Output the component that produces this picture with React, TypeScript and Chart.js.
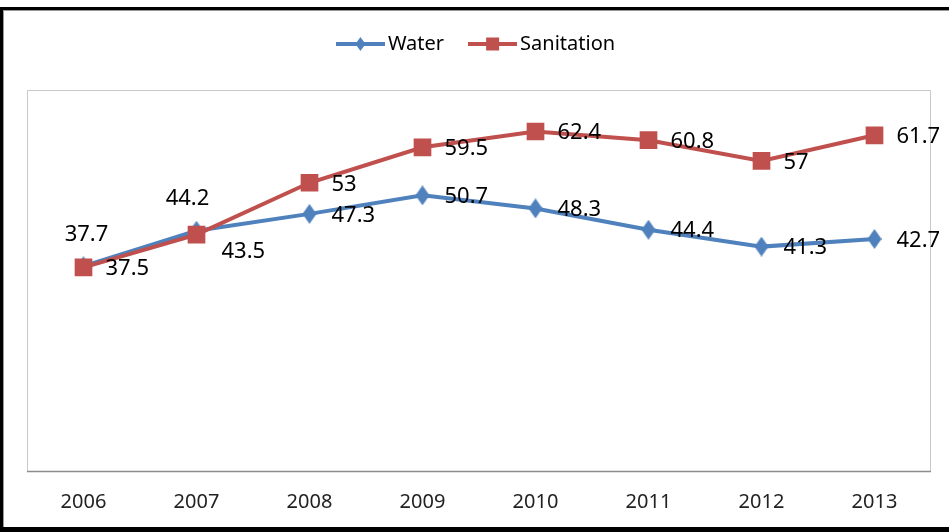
import React, { useEffect, useRef } from 'react';
import { Chart, registerables } from 'chart.js';

Chart.register(...registerables);

// ---- data ----
const years = ['2006', '2007', '2008', '2009', '2010', '2011', '2012', '2013'];
const waterValues = [37.7, 44.2, 47.3, 50.7, 48.3, 44.4, 41.3, 42.7];
const sanitationValues = [37.5, 43.5, 53, 59.5, 62.4, 60.8, 57, 61.7];
const seriesNames = ['Water', 'Sanitation'];
const yMin = 0;
const yMax = 70;

// ---- style ----
const WATER_COLOR = '#4F81BD';
const SAN_COLOR = '#C0504D';
const FONT = '"Noto Sans", "DejaVu Sans", sans-serif';

type Placement = { dx: number; dy: number; align: CanvasTextAlign };
const RIGHT: Placement = { dx: 22, dy: 1.5, align: 'left' };
const waterLabelPlacement: Placement[] = [
  { dx: 3, dy: -32, align: 'center' },
  { dx: -9, dy: -32, align: 'center' },
  RIGHT, RIGHT, RIGHT, RIGHT, RIGHT, RIGHT,
];
const sanitationLabelPlacement: Placement[] = [
  RIGHT,
  { dx: 25, dy: 17, align: 'left' },
  RIGHT, RIGHT, RIGHT, RIGHT, RIGHT, RIGHT,
];

function makeCanvas(w: number, h: number) {
  const c = document.createElement('canvas');
  c.width = w;
  c.height = h;
  return c;
}

function drawDiamond(ctx: CanvasRenderingContext2D, cx: number, cy: number, w: number, h: number, color: string) {
  ctx.fillStyle = color;
  ctx.beginPath();
  ctx.moveTo(cx, cy - h / 2);
  ctx.lineTo(cx + w / 2, cy);
  ctx.lineTo(cx, cy + h / 2);
  ctx.lineTo(cx - w / 2, cy);
  ctx.closePath();
  ctx.fill();
}

function makeDiamondMarker(color: string) {
  const c = makeCanvas(14, 20);
  const ctx = c.getContext('2d')!;
  drawDiamond(ctx, 7, 10, 14, 20, color);
  return c;
}

function makeLegendIcon(kind: 'diamond' | 'square', color: string) {
  const c = makeCanvas(49, 20);
  const ctx = c.getContext('2d')!;
  ctx.strokeStyle = color;
  ctx.lineWidth = 4;
  ctx.beginPath();
  ctx.moveTo(0, 10);
  ctx.lineTo(49, 10);
  ctx.stroke();
  if (kind === 'diamond') {
    drawDiamond(ctx, 24.5, 10, 10, 14, color);
  } else {
    ctx.fillStyle = color;
    ctx.fillRect(24.5 - 6.5, 10 - 6.5, 13, 13);
  }
  return c;
}

export default function App() {
  const canvasRef = useRef<HTMLCanvasElement | null>(null);

  useEffect(() => {
    if (!canvasRef.current) return;
    const diamond = makeDiamondMarker(WATER_COLOR);
    const legendIcons = [makeLegendIcon('diamond', WATER_COLOR), makeLegendIcon('square', SAN_COLOR)];
    const placements = [waterLabelPlacement, sanitationLabelPlacement];

    const legendMargin = {
      id: 'legendMargin',
      beforeInit(chart: any) {
        const orig = chart.legend.fit;
        chart.legend.fit = function fit() {
          orig.bind(chart.legend)();
          this.height += 26;
        };
      },
    };

    const plotFrame = {
      id: 'plotFrame',
      beforeDatasetsDraw(chart: any) {
        const { ctx, chartArea: a } = chart;
        const l = Math.round(a.left) + 0.5;
        const r = Math.round(a.right) - 0.5;
        const t = Math.round(a.top) + 0.5;
        const b = Math.round(a.bottom) - 0.5;
        ctx.save();
        ctx.lineWidth = 1;
        ctx.strokeStyle = '#C8C8C8';
        ctx.beginPath();
        ctx.moveTo(l, b);
        ctx.lineTo(l, t);
        ctx.lineTo(r, t);
        ctx.lineTo(r, b);
        ctx.stroke();
        ctx.strokeStyle = '#8C8C8C';
        ctx.lineWidth = 1.5;
        ctx.beginPath();
        ctx.moveTo(l - 0.5, b);
        ctx.lineTo(r + 0.5, b);
        ctx.stroke();
        ctx.restore();
      },
    };

    const dataLabels = {
      id: 'dataLabels',
      afterDatasetsDraw(chart: any) {
        const { ctx } = chart;
        ctx.save();
        ctx.font = `22px ${FONT}`;
        ctx.fillStyle = '#000';
        ctx.textBaseline = 'middle';
        chart.data.datasets.forEach((ds: any, di: number) => {
          const meta = chart.getDatasetMeta(di);
          meta.data.forEach((pt: any, i: number) => {
            const p = placements[di][i];
            ctx.textAlign = p.align;
            ctx.fillText(String(ds.data[i]), pt.x + p.dx, pt.y + p.dy);
          });
        });
        ctx.restore();
      },
    };

    const chart = new Chart(canvasRef.current, {
      type: 'line',
      data: {
        labels: years,
        datasets: [
          {
            label: seriesNames[0],
            data: waterValues,
            borderColor: WATER_COLOR,
            backgroundColor: WATER_COLOR,
            borderWidth: 4,
            tension: 0,
            pointStyle: diamond as any,
            pointRadius: 9,
            pointHoverRadius: 9,
            order: 1,
          },
          {
            label: seriesNames[1],
            data: sanitationValues,
            borderColor: SAN_COLOR,
            backgroundColor: SAN_COLOR,
            borderWidth: 4,
            tension: 0,
            pointStyle: 'rect',
            pointRadius: 12.5,
            pointHoverRadius: 12.5,
            pointBorderWidth: 0,
            order: 0,
          },
        ],
      },
      options: {
        responsive: false,
        animation: false,
        layout: { padding: { left: 27, right: 18, top: 3, bottom: 0 } },
        plugins: {
          tooltip: { enabled: false },
          legend: {
            position: 'top',
            align: 'center',
            labels: {
              font: { family: FONT, size: 20 },
              color: '#000',
              usePointStyle: true,
              pointStyleWidth: 35,
              boxHeight: 20,
              padding: 31,
              sort: (a: any, b: any) => a.datasetIndex - b.datasetIndex,
              generateLabels: (c: any) => {
                const items = Chart.defaults.plugins.legend.labels.generateLabels(c);
                return items.map((it: any) => ({ ...it, pointStyle: legendIcons[it.datasetIndex] }));
              },
            },
          },
        },
        scales: {
          x: {
            offset: true,
            grid: { display: false, drawTicks: false, tickLength: 0 },
            border: { display: false },
            ticks: { font: { family: FONT, size: 20 }, color: '#222', padding: 18 },
          },
          y: {
            display: false,
            min: yMin,
            max: yMax,
          },
        },
      },
      plugins: [legendMargin, plotFrame, dataLabels],
    } as any);

    return () => chart.destroy();
  }, []);

  return (
    <div style={{ position: 'fixed', left: 0, top: 0, width: 949, height: 532, overflow: 'hidden', background: '#fff' }}>
      <canvas ref={canvasRef} width={949} height={532} style={{ display: 'block', width: 949, height: 532 }} />
      <div
        style={{
          position: 'absolute',
          left: 0,
          top: 7,
          width: 1000,
          height: 525,
          boxSizing: 'border-box',
          borderTop: '3px solid #000',
          borderLeft: '3px solid #000',
          borderBottom: '5px solid #000',
          boxShadow: 'inset 1px 1px 0 #999',
          pointerEvents: 'none',
        }}
      />
    </div>
  );
}
